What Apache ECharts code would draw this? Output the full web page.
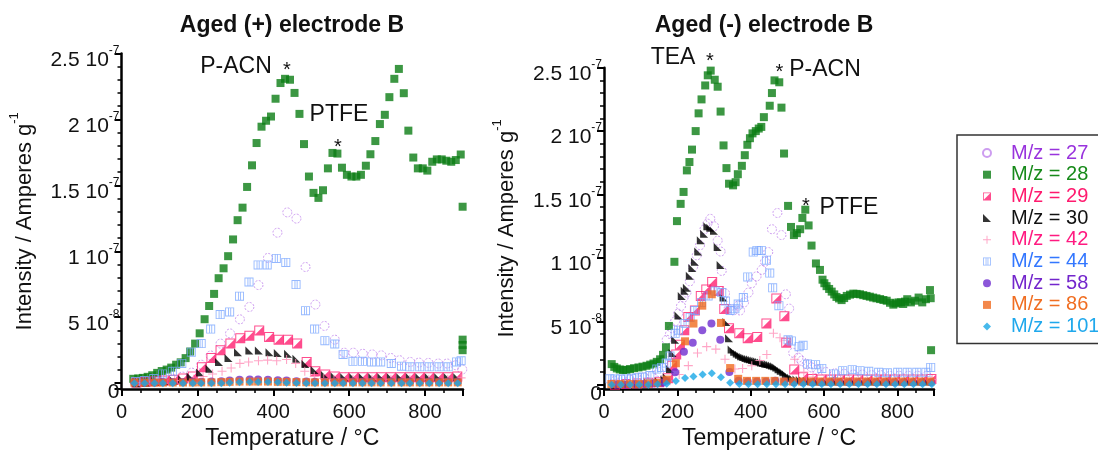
<!DOCTYPE html>
<html>
<head>
<meta charset="utf-8">
<script src="https://cdn.jsdelivr.net/npm/echarts@6.0.0/dist/echarts.min.js"></script>
<style>
  html, body { margin: 0; padding: 0; background: #fff; }
  #echart { width: 1098px; height: 455px; }
</style>
</head>
<body>
<div id="echart"></div>
<script>
// values are in units of 1e-7 A/g, temperatures in °C
const seriesNames = ['M/z = 27', 'M/z = 28', 'M/z = 29', 'M/z = 30', 'M/z = 42', 'M/z = 44', 'M/z = 58', 'M/z = 86', 'M/z = 101'];
const xTickLabels = [0, 200, 400, 600, 800];

// ---- Aged (+) electrode B ----
const m27L = [[35,0.01],[60,0.01],[85,0.015],[110,0.02],[135,0.03],[160,0.05],[185,0.08],[210,0.14],[235,0.21],[261,0.30],[286,0.377],[312,0.484],[337,0.578],[361,0.744],[386,0.95],[411,1.141],[437,1.295],[461,1.248],[485,0.881],[511,0.596],[535,0.434],[562,0.33],[587,0.231],[611,0.231],[636,0.223],[661,0.218],[685,0.211],[710,0.191],[733,0.174],[761,0.161],[784,0.156],[809,0.154],[835,0.149],[858,0.149],[881,0.136],[898,0.104]];
const m28L = [[31,0.033],[44,0.036],[56,0.04],[69,0.048],[81,0.06],[94,0.078],[106,0.092],[119,0.103],[131,0.118],[144,0.14],[156,0.158],[169,0.19],[181,0.24],[194,0.30],[206,0.378],[219,0.485],[231,0.585],[244,0.677],[256,0.796],[269,0.871],[281,0.963],[294,1.09],[306,1.236],[319,1.331],[331,1.488],[344,1.652],[356,1.821],[369,1.945],[381,1.99],[394,2.022],[406,2.157],[419,2.276],[431,2.308],[444,2.301],[456,2.201],[469,2.042],[481,1.813],[494,1.567],[506,1.443],[519,1.405],[531,1.463],[544,1.629],[556,1.746],[569,1.741],[581,1.634],[594,1.58],[606,1.567],[619,1.567],[631,1.58],[644,1.649],[656,1.736],[669,1.836],[681,1.965],[694,2.035],[706,2.169],[719,2.308],[731,2.383],[744,2.199],[756,1.915],[769,1.711],[781,1.629],[794,1.629],[806,1.612],[819,1.679],[831,1.697],[844,1.697],[856,1.687],[869,1.679],[881,1.692],[894,1.734],[899,1.338],[899,0.33],[899,0.29],[899,0.25]];
const m29L = [[39,0.005],[64,0.01],[89,0.015],[113,0.02],[138,0.025],[163,0.035],[188,0.05],[212,0.12],[237,0.19],[261,0.25],[287,0.30],[313,0.34],[337,0.36],[363,0.40],[389,0.35],[414,0.33],[439,0.33],[463,0.30],[488,0.16],[511,0.09],[537,0.065],[562,0.05],[587,0.045],[611,0.045],[636,0.045],[661,0.045],[685,0.045],[710,0.045],[735,0.045],[760,0.045],[785,0.045],[810,0.045],[835,0.045],[860,0.045],[885,0.05]];
const m30L = [[39,0.0],[64,0.005],[89,0.01],[113,0.015],[138,0.02],[160,0.03],[182,0.05],[207,0.08],[232,0.11],[257,0.16],[282,0.19],[307,0.235],[337,0.248],[362,0.248],[390,0.235],[412,0.228],[439,0.223],[461,0.186],[485,0.145],[509,0.099],[536,0.062],[562,0.05],[587,0.045],[611,0.045],[636,0.045],[661,0.045],[685,0.045],[710,0.045],[735,0.045],[760,0.045],[785,0.045],[810,0.045],[835,0.045],[860,0.045],[885,0.045]];
const m42L = [[40,0.005],[90,0.01],[140,0.02],[190,0.03],[215,0.05],[240,0.07],[265,0.09],[289,0.115],[312,0.15],[335,0.16],[361,0.17],[385,0.175],[409,0.17],[435,0.18],[459,0.15],[483,0.09],[508,0.05],[533,0.035],[560,0.03],[610,0.03],[660,0.03],[710,0.03],[760,0.03],[810,0.03],[860,0.03],[895,0.04]];
const m44L = [[37,0.012],[60,0.02],[85,0.035],[108,0.07],[134,0.09],[159,0.15],[184,0.235],[210,0.30],[235,0.41],[260,0.52],[285,0.54],[311,0.66],[336,0.767],[360,0.897],[384,0.897],[408,0.946],[433,0.916],[460,0.748],[485,0.55],[509,0.41],[536,0.322],[562,0.297],[584,0.218],[610,0.166],[635,0.166],[659,0.161],[683,0.161],[711,0.149],[738,0.129],[760,0.124],[786,0.124],[811,0.124],[837,0.124],[861,0.124],[883,0.161],[895,0.17]];
const tGridL = [34,61,87,109,135,162,188,210,237,263,285,311,338,360,386,412,435,461,487,510,536,562,584,610,635,659,683,711,738,760,786,811,837,861,886];
const v58L = [0.005,0.005,0.005,0.008,0.008,0.008,0.01,0.01,0.012,0.015,0.02,0.025,0.028,0.028,0.025,0.022,0.02,0.015,0.012,0.01,0.01,0.01,0.01,0.01,0.01,0.01,0.01,0.01,0.01,0.01,0.01,0.01,0.01,0.01,0.01];
const v86L = [0.004,0.004,0.004,0.004,0.005,0.005,0.005,0.006,0.006,0.008,0.01,0.012,0.012,0.012,0.012,0.01,0.01,0.008,0.007,0.006,0.006,0.006,0.006,0.006,0.006,0.006,0.006,0.006,0.006,0.006,0.006,0.006,0.006,0.006,0.006];
const v101L = [0,0,0,0,0,0,0,0,0,0,0.003,0.006,0.008,0.008,0.008,0.006,0.004,0.002,0,0,0,0,0,0,0,0,0,0,0,0,0,0,0,0,0];

// ---- Aged (-) electrode B ----
const m27R = [[30,0.03],[50,0.04],[70,0.04],[90,0.05],[110,0.06],[130,0.07],[150,0.10],[165,0.20],[171,0.354],[180,0.40],[186,0.444],[194,0.50],[202,0.56],[210,0.62],[217,0.687],[225,0.726],[234,0.815],[243,0.93],[253,1.02],[262,1.10],[274,1.226],[282,1.27],[290,1.308],[300,1.25],[310,1.136],[318,1.05],[321,0.897],[330,0.72],[340,0.60],[353,0.585],[366,0.623],[371,0.585],[382,0.649],[394,0.726],[403,0.80],[416,0.854],[430,0.905],[439,0.97],[448,1.046],[458,1.226],[473,1.354],[484,1.18],[496,0.713],[505,0.60],[516,0.251],[530,0.213],[539,0.188],[553,0.162],[566,0.136],[580,0.12],[605,0.10],[630,0.09],[655,0.085],[680,0.08],[705,0.08],[730,0.075],[755,0.075],[780,0.07],[805,0.07],[830,0.07],[855,0.07],[880,0.07]];
const m28R = [[21,0.162],[28,0.14],[35,0.128],[43,0.12],[52,0.115],[61,0.117],[71,0.123],[82,0.13],[94,0.136],[105,0.142],[116,0.149],[126,0.158],[135,0.167],[144,0.18],[153,0.2],[161,0.235],[169,0.295],[177,0.463],[192,0.969],[199,1.29],[209,1.426],[217,1.52],[226,1.69],[233,1.756],[240,1.854],[250,2.0],[258,2.14],[266,2.25],[276,2.36],[283,2.44],[291,2.477],[302,2.405],[310,2.35],[318,2.154],[326,1.887],[334,1.708],[341,1.585],[352,1.572],[359,1.597],[365,1.66],[376,1.726],[384,1.81],[391,1.892],[398,1.944],[405,1.982],[414,2.0],[422,2.02],[429,2.033],[436,2.11],[452,2.2],[458,2.30],[465,2.40],[478,2.385],[484,2.185],[491,1.823],[502,1.41],[510,1.244],[518,1.18],[526,1.195],[535,1.226],[541,1.315],[549,1.38],[558,1.256],[566,1.097],[578,0.956],[589,0.905],[596,0.828],[601,0.80],[607,0.777],[614,0.755],[621,0.734],[628,0.712],[634,0.692],[641,0.68],[648,0.667],[655,0.683],[662,0.70],[671,0.71],[680,0.718],[689,0.716],[698,0.713],[707,0.706],[716,0.70],[725,0.694],[734,0.687],[743,0.681],[753,0.675],[762,0.668],[771,0.662],[780,0.646],[789,0.631],[796,0.641],[803,0.649],[810,0.649],[816,0.636],[821,0.655],[827,0.674],[837,0.649],[848,0.662],[858,0.687],[868,0.649],[878,0.674],[889,0.746],[891,0.682],[892,0.272]];
const m29R = [[30,0.0],[60,0.005],[90,0.01],[120,0.015],[150,0.02],[175,0.05],[186,0.15],[197,0.238],[207,0.315],[219,0.43],[230,0.533],[248,0.585],[264,0.70],[279,0.75],[295,0.81],[313,0.738],[328,0.597],[341,0.444],[369,0.405],[392,0.367],[418,0.375],[443,0.482],[470,0.68],[492,0.54],[497,0.33],[519,0.12],[543,0.059],[568,0.045],[593,0.04],[618,0.04],[643,0.04],[668,0.04],[693,0.04],[718,0.04],[743,0.04],[768,0.04],[793,0.04],[818,0.04],[843,0.04],[868,0.04],[893,0.045]];
const m30R = [[30,0.0],[60,0.005],[90,0.01],[120,0.015],[150,0.025],[165,0.04],[171,0.059],[180,0.123],[187,0.25],[194,0.354],[203,0.546],[212,0.70],[220,0.74],[226,0.764],[234,0.86],[241,0.92],[248,0.97],[257,1.05],[264,1.14],[273,1.19],[282,1.25],[290,1.238],[300,1.213],[310,1.085],[318,0.944],[326,0.687],[334,0.495],[341,0.367],[348,0.277],[355,0.26],[362,0.246],[368,0.235],[374,0.225],[380,0.218],[386,0.21],[392,0.205],[398,0.2],[404,0.195],[410,0.19],[416,0.186],[422,0.18],[428,0.175],[434,0.17],[440,0.165],[446,0.162],[452,0.158],[458,0.152],[464,0.146],[470,0.135],[476,0.122],[482,0.11],[489,0.098],[496,0.082],[503,0.067],[510,0.055],[516,0.046],[525,0.04],[534,0.036],[543,0.032],[553,0.028],[565,0.026],[580,0.025],[605,0.025],[630,0.025],[655,0.025],[680,0.025],[705,0.025],[730,0.025],[755,0.025],[780,0.025],[805,0.025],[830,0.025],[855,0.025],[880,0.025]];
const m42R = [[30,0.005],[80,0.01],[130,0.015],[180,0.03],[205,0.08],[230,0.15],[255,0.25],[280,0.30],[305,0.28],[330,0.2],[357,0.123],[378,0.128],[403,0.149],[425,0.19],[444,0.238],[462,0.405],[480,0.37],[498,0.35],[520,0.2],[545,0.1],[570,0.06],[600,0.045],[650,0.04],[700,0.04],[750,0.04],[800,0.04],[850,0.04],[895,0.04]];
const m44R = [[16,0.046],[30,0.045],[45,0.045],[60,0.045],[75,0.05],[90,0.055],[105,0.06],[125,0.072],[144,0.123],[157,0.136],[170,0.17],[180,0.226],[194,0.405],[203,0.43],[221,0.482],[235,0.53],[248,0.585],[266,0.649],[284,0.70],[303,0.738],[321,0.726],[331,0.66],[344,0.585],[357,0.598],[366,0.636],[380,0.687],[392,0.85],[407,1.046],[417,1.059],[429,1.059],[443,0.982],[452,0.88],[460,0.764],[477,0.623],[502,0.354],[511,0.345],[532,0.30],[543,0.31],[555,0.162],[577,0.158],[594,0.128],[626,0.085],[651,0.11],[677,0.118],[698,0.11],[722,0.105],[749,0.097],[773,0.094],[801,0.097],[827,0.097],[853,0.097],[878,0.097],[891,0.136]];
const m58R = [[35,0.0],[60,0.0],[85,0.005],[110,0.005],[135,0.01],[160,0.015],[170,0.03],[194,0.097],[218,0.26],[242,0.33],[268,0.43],[293,0.482],[317,0.354],[342,0.1],[367,0.03],[392,0.025],[417,0.025],[442,0.025],[467,0.03],[492,0.025],[517,0.02],[542,0.02],[567,0.02],[592,0.02],[617,0.02],[642,0.02],[667,0.02],[692,0.02],[717,0.02],[742,0.02],[767,0.02],[792,0.02],[817,0.02],[842,0.02],[867,0.02],[892,0.02]];
const m86R = [[20,0.005],[45,0.005],[70,0.005],[95,0.005],[120,0.01],[145,0.015],[171,0.04],[196,0.169],[221,0.342],[244,0.482],[268,0.623],[294,0.713],[319,0.487],[344,0.131],[366,0.046],[390,0.03],[415,0.03],[440,0.03],[465,0.03],[490,0.025],[515,0.025],[540,0.025],[565,0.025],[590,0.025],[615,0.025],[640,0.025],[665,0.025],[690,0.025],[715,0.025],[740,0.025],[765,0.025],[790,0.025],[815,0.025],[840,0.025],[865,0.025],[890,0.025]];
const m101R = [[21,0.0],[46,0.0],[71,0.0],[96,0.0],[121,0.0],[146,0.003],[171,0.008],[196,0.028],[221,0.052],[244,0.064],[269,0.08],[294,0.09],[319,0.059],[344,0.015],[369,0.005],[394,0.003],[419,0.003],[444,0.003],[469,0.003],[494,0.003],[519,0.003],[544,0.003],[569,0.003],[594,0.003],[619,0.003],[644,0.003],[669,0.003],[694,0.003],[719,0.003],[744,0.003],[769,0.003],[794,0.003],[819,0.003],[844,0.003],[869,0.003],[894,0.003]];

const FONT = '"Liberation Sans", Arial, sans-serif';

const legendColors = ['#9933dd', '#178a1a', '#ff1a6e', '#111111', '#ff1a80', '#3377ff', '#7326cc', '#f06e22', '#1fa8ec'];

// marker styles, same order as seriesNames
const marks = [
    { symbol: 'circle', size: 9, style: { color: 'rgba(255,255,255,0)', borderColor: '#c184ec', borderWidth: 1, borderType: [2, 1.5] } },
    { symbol: 'rect', size: 8, style: { color: '#0b7d14' } },
    { symbol: 'path://M0,0H10V10H0Z M1,1V9H9V1Z M10,0V10H0Z', size: 10, style: { color: '#ff1f70' } },
    { symbol: 'path://M0,0L0,10L10,10Z', size: 8, style: { color: '#000000' } },
    { symbol: 'path://M4.4,0H5.6V10H4.4Z M0,4.4H10V5.6H0Z', size: 9, style: { color: '#ff8fb8' } },
    { symbol: 'path://M0,0H10V10H0Z M1,1V9H9V1Z M3.3,1H4.3V9H3.3Z M5.7,1H6.7V9H5.7Z', size: 9, style: { color: '#7aa6ff' } },
    { symbol: 'circle', size: 8, style: { color: '#6f2dd0' } },
    { symbol: 'rect', size: 8, style: { color: '#f06a1e' } },
    { symbol: 'diamond', size: 8, style: { color: '#19a8e6' } }
];

function zip(ts, vs) {
    return ts.map((t, i) => [t, vs[i]]);
}

const dataL = [m27L, m28L, m29L, m30L, m42L, m44L, zip(tGridL, v58L), zip(tGridL, v86L), zip(tGridL, v101L)];
const dataR = [m27R, m28R, m29R, m30R, m42R, m44R, m58R, m86R, m101R];

function yLabel(v) {
    if (v < -1e-9) return '';
    if (Math.abs(v) < 1e-9) return '{z|0}';
    const r = Math.round(v * 100) / 100;
    if (r >= 1) return '{b|' + r + ' 10}{s|-7}';
    return '{b|' + Math.round(r * 10) + ' 10}{s|-8}';
}

function makeX(gridIndex) {
    return {
        type: 'value', gridIndex: gridIndex, min: 0, max: 900,
        name: 'Temperature / °C', nameLocation: 'middle', nameGap: 31,
        nameTextStyle: { fontSize: 23, fontFamily: FONT, color: '#111' },
        axisLine: { onZero: false, lineStyle: { color: '#000', width: 2.5 } },
        axisTick: { length: 7, lineStyle: { color: '#000', width: 2 } },
        minorTick: { show: true, splitNumber: 4, length: 4, lineStyle: { color: '#000', width: 1.5 } },
        splitLine: { show: false },
        axisLabel: {
            fontSize: 20, fontFamily: FONT, color: '#111', margin: 13,
            formatter: v => (xTickLabels.indexOf(v) >= 0 ? String(v) : '')
        }
    };
}

function makeY(gridIndex, min) {
    return {
        type: 'value', gridIndex: gridIndex, min: min, max: 2.5, splitNumber: 5,
        name: '{b|Intensity / Amperes g}{s|-1}', nameLocation: 'middle', nameGap: 86, nameRotate: 90,
        nameTextStyle: {
            fontFamily: FONT, color: '#111',
            rich: {
                b: { fontSize: 22, lineHeight: 22, fontFamily: FONT, color: '#111' },
                s: { fontSize: 13, lineHeight: 2, padding: [0, 0, 20, 0], fontFamily: FONT, color: '#111' }
            }
        },
        axisLine: { show: true, lineStyle: { color: '#000', width: 2.5 } },
        axisTick: { show: true, length: 7, lineStyle: { color: '#000', width: 2 } },
        minorTick: { show: true, splitNumber: 5, length: 4, lineStyle: { color: '#000', width: 1.5 } },
        splitLine: { show: false },
        axisLabel: {
            margin: 2, formatter: yLabel,
            padding: [13, 0, 0, 0],
            rich: {
                b: { fontSize: 21, lineHeight: 21, fontFamily: FONT, color: '#111' },
                s: { fontSize: 12, lineHeight: 2, padding: [0, 0, 19, 0], fontFamily: FONT, color: '#111' },
                z: { fontSize: 21, lineHeight: 21, padding: [6, 0, 0, 0], fontFamily: FONT, color: '#111' }
            }
        }
    };
}

const series = [];
[dataL, dataR].forEach((set, k) => {
    set.forEach((d, i) => {
        series.push({
            name: seriesNames[i], type: 'scatter',
            xAxisIndex: k, yAxisIndex: k,
            symbol: marks[i].symbol, symbolSize: marks[i].size,
            itemStyle: marks[i].style,
            data: d
        });
    });
});

function txt(text, x, y, size, bold) {
    return {
        type: 'text', x: x, y: y, silent: true,
        style: {
            text: text, fontSize: size, fontFamily: FONT, fontWeight: bold ? 'bold' : 'normal', fill: '#111',
            align: 'center', verticalAlign: 'middle', textAlign: 'center', textVerticalAlign: 'middle'
        }
    };
}

const chart = echarts.init(document.getElementById('echart'));

const option = {
    animation: false,
    backgroundColor: '#fff',
    grid: [
        { left: 121.5, top: 53.5, width: 341.5, height: 342.5 },
        { left: 604, top: 67.7, width: 330, height: 329.5 }
    ],
    xAxis: [makeX(0), makeX(1)],
    yAxis: [makeY(0, -0.045), makeY(1, -0.035)],
    legend: {
        orient: 'vertical', left: 957, top: 135,
        padding: [8, 10, 7, 25],
        itemWidth: 8, itemHeight: 8, itemGap: 1.7,
        borderColor: '#333', borderWidth: 1.5, backgroundColor: '#fff',
        textStyle: { fontSize: 20, lineHeight: 20, fontFamily: FONT, padding: [0, 0, 0, 15] },
        data: seriesNames.map((n, i) => ({ name: n, textStyle: { color: legendColors[i] } }))
    },
    graphic: [
        txt('Aged (+) electrode B', 292, 26, 23, true),
        txt('Aged (-) electrode B', 764, 26, 23, true),
        txt('P-ACN', 236, 67, 23),
        txt('*', 287, 70, 20),
        txt('PTFE', 339, 115, 23),
        txt('*', 338, 147, 20),
        txt('TEA', 673, 58, 23),
        txt('*', 710, 61, 20),
        txt('*', 779.5, 72, 20),
        txt('P-ACN', 825, 70, 23),
        txt('*', 806, 206, 20),
        txt('PTFE', 849, 208, 23)
    ],
    series: series
};

chart.setOption(option);
</script>
</body>
</html>
